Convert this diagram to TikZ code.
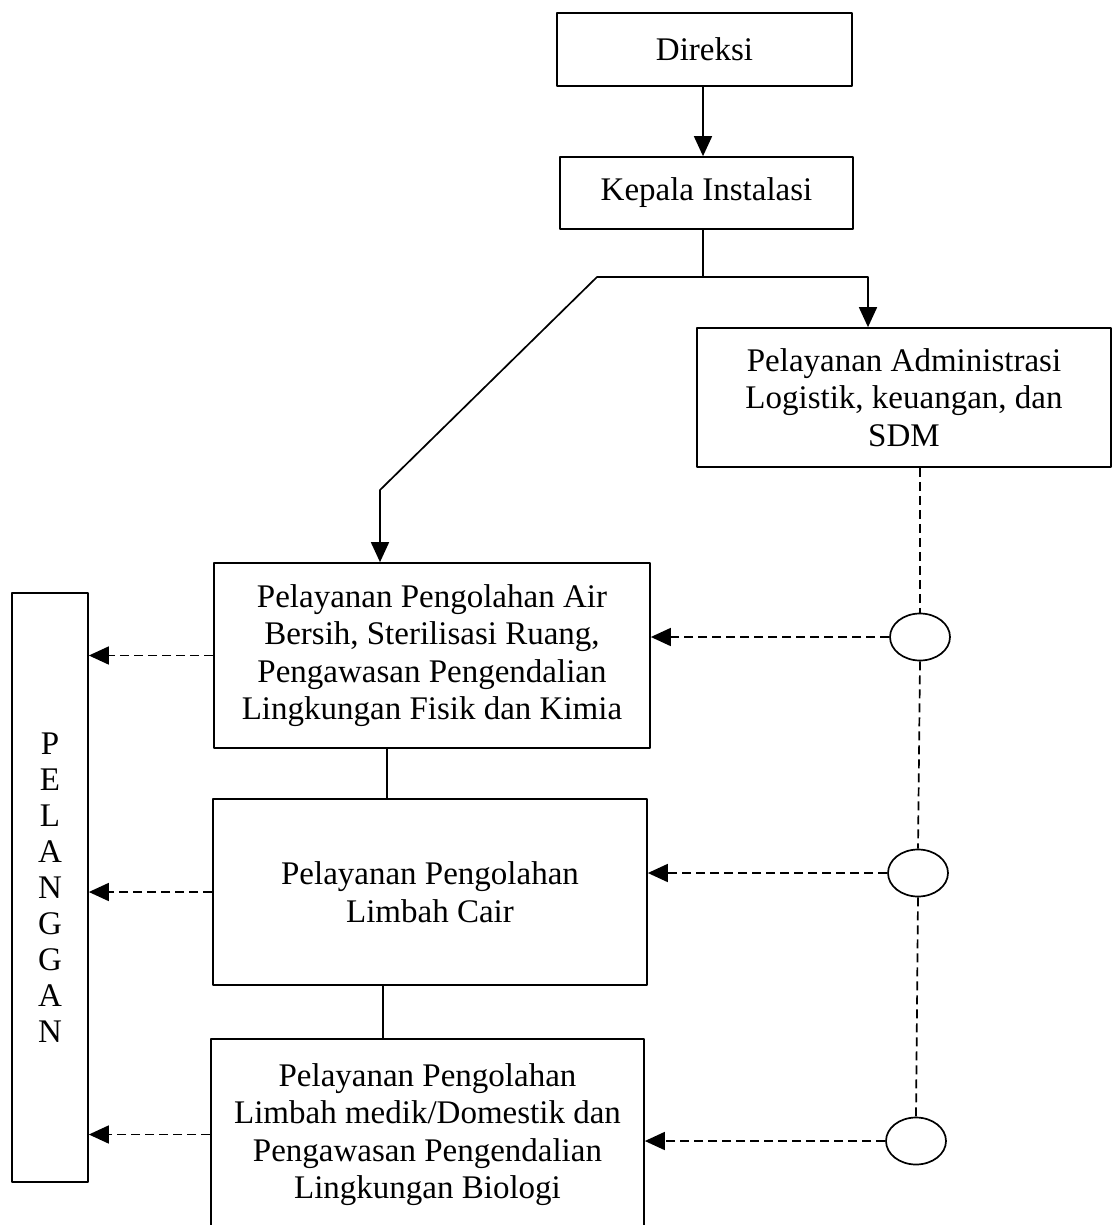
\documentclass[tikz,border=0pt]{standalone}
\usepackage{fontspec}
\setmainfont{Liberation Serif}
\usetikzlibrary{arrows.meta,shapes.geometric}

\begin{document}
\begin{tikzpicture}[x=1pt, y=-1pt, line join=round, line width=1.7pt,
		>={Triangle[length=20pt,width=18pt]}]

		\tikzset{unit/.style={draw, rectangle, inner sep=0pt, align=center,
				font=\fontsize{33}{37.5}\selectfont},
			titik/.style={draw, ellipse, inner sep=0pt, minimum width=60pt, minimum height=47pt},
			putus/.style={dashed, dash pattern=on 9pt off 5pt}}

		\useasboundingbox (0,0) rectangle (1112,1225);
		\clip (0,0) rectangle (1112,1225);

		% struktur atas
		\node[unit, minimum width=295pt, minimum height=73pt] (direksi) at (704.5,49.5) {Direksi};
		\node[unit, minimum width=293pt, minimum height=72pt] (kepala) at (706.5,193) {Kepala Instalasi};
		\node[unit, minimum width=414pt, minimum height=139pt] (admin) at (904,397.5)
		{Pelayanan Administrasi\\Logistik, keuangan, dan\\SDM};

		% unit pelayanan
		\node[unit, minimum width=436pt, minimum height=185pt] (air) at (432,655.5)
		{Pelayanan Pengolahan Air\\Bersih, Sterilisasi Ruang,\\Pengawasan Pengendalian\\Lingkungan Fisik dan Kimia};
		\node[unit, minimum width=434pt, minimum height=186pt] (cair) at (430,892)
		{Pelayanan Pengolahan\\Limbah Cair};
		\node[unit, minimum width=433pt, minimum height=191pt] (biologi) at (427.5,1134.5)
		{Pelayanan Pengolahan\\Limbah medik/Domestik dan\\Pengawasan Pengendalian\\Lingkungan Biologi};

		\node[unit, minimum width=76pt, minimum height=589pt, font=\fontsize{33}{36}\selectfont]
		(pelanggan) at (50,887.5) {P\\E\\L\\A\\N\\G\\G\\A\\N};

		\node[titik] (e1) at (920,637) {};
		\node[titik] (e2) at (918,873) {};
		\node[titik] (e3) at (916,1141) {};

		\coordinate (cabang) at (703,277);
		\coordinate (belok) at (597,277);
		\coordinate (turun) at (380,490);

		% garis komando
		\draw[->] (direksi.south -| cabang) -- (cabang |- kepala.north);
		\draw (kepala.south -| cabang) -- (cabang);
		\draw[->] (cabang) -| ([xshift=-36pt]admin.north);
		\draw[->] (cabang) -- (belok) -- (turun) -- (turun |- air.north);
		\draw ([xshift=-45pt]air.south) -- ([xshift=-45pt]air.south |- cair.north);
		\draw ([xshift=-47pt]cair.south) -- ([xshift=-47pt]cair.south |- biologi.north);

		% garis koordinasi
		\draw[putus] (e1.north |- admin.south) -- (e1.north);
		\draw[putus] (e1.south) -- (e2.north);
		\draw[putus] (e2.south) -- (e3.north);
		\foreach \e/\u in {e1/air, e2/cair, e3/biologi}
		\draw[putus, ->] (\e.west) -- (\e.west -| \u.east);
		\foreach \u in {air, cair, biologi}
		\draw[putus, ->] (\u.west) -- (\u.west -| pelanggan.east);
\end{tikzpicture}
\end{document}
